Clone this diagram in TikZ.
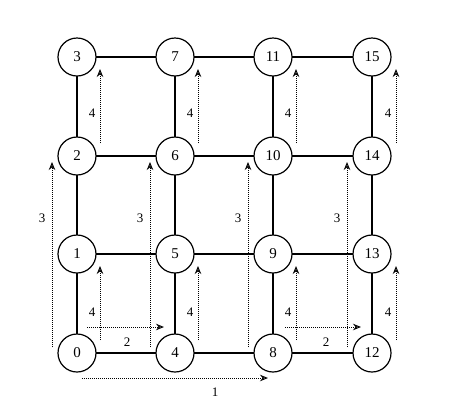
\documentclass[tikz,border=0pt]{standalone}
\usepackage{fontspec}
\setmainfont{Liberation Serif}
\usetikzlibrary{arrows.meta}
\begin{document}
\begin{tikzpicture}[x=1pt,y=-1pt,
  vtx/.style={circle,draw,line width=1.2pt,minimum size=38pt,inner sep=0pt,fill=white,font=\fontsize{15}{17}\selectfont},
  edge/.style={line width=2.1pt},
  darr/.style={densely dotted,line width=1pt,-{Stealth[open,length=8pt,width=6.5pt]}},
  lbl/.style={font=\fontsize{13}{15}\selectfont,inner sep=0pt}]
\useasboundingbox (0,0) rectangle (454,405);
\foreach \c/\x in {0/77,1/175,2/273,3/372}{
  \foreach \r/\y in {0/353,1/254,2/156,3/57}{
    \pgfmathtruncatemacro{\n}{4*\c+\r}
    \coordinate (p\n) at (\x,\y);
  }
}
% edges
\foreach \a/\b in {0/4,4/8,8/12,1/5,5/9,9/13,2/6,6/10,10/14,3/7,7/11,11/15,
                   0/1,1/2,2/3,4/5,5/6,6/7,8/9,9/10,10/11,12/13,13/14,14/15}{
  \draw[edge] (p\a) -- (p\b);
}
\foreach \n in {0,...,15}{
  \node[vtx] (n\n) at (p\n) {\n};
}
% "4" arrows
\foreach \x in {100,198,296,396}{
  \coordinate (fa\x) at (\x,340); \coordinate (ta\x) at (\x,266);
  \draw[darr] (fa\x) -- (ta\x);
  \node[lbl] (la\x) at (\x-8,312) {4};
  \coordinate (fb\x) at (\x,143); \coordinate (tb\x) at (\x,69);
  \draw[darr] (fb\x) -- (tb\x);
  \node[lbl] (lb\x) at (\x-8,113) {4};
}
% "3" arrows
\foreach \x in {52,150,248,347}{
  \coordinate (fc\x) at (\x,347); \coordinate (tc\x) at (\x,162);
  \draw[darr] (fc\x) -- (tc\x);
  \node[lbl] (lc\x) at (\x-10,218) {3};
}
% "2" arrows
\coordinate (f2a) at (87,327); \coordinate (t2a) at (164,327);
\draw[darr] (f2a) -- (t2a);
\node[lbl] (l2a) at (127,342) {2};
\coordinate (f2b) at (285,327); \coordinate (t2b) at (361,327);
\draw[darr] (f2b) -- (t2b);
\node[lbl] (l2b) at (326,342) {2};
% "1" arrow
\coordinate (f1) at (82,378); \coordinate (t1) at (268,378);
\draw[darr] (f1) -- (t1);
\node[lbl] (l1) at (215,392) {1};
\end{tikzpicture}
\end{document}
